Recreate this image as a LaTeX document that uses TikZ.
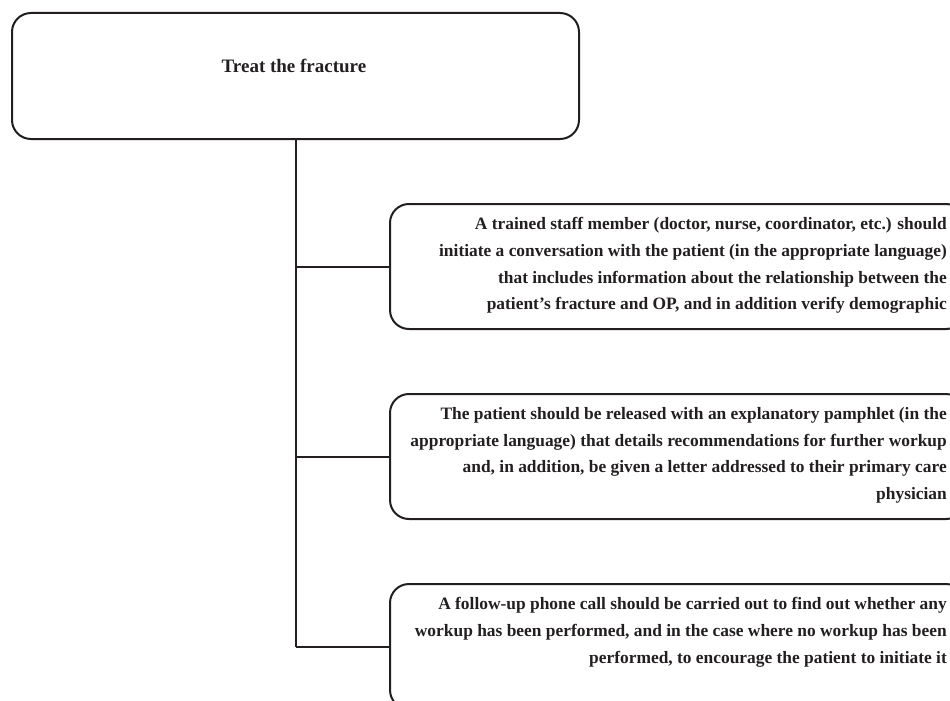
\documentclass[tikz,border=0pt]{standalone}
\usepackage{fontspec}
\setmainfont{Liberation Serif}
\definecolor{ink}{HTML}{231F20}
\begin{document}
\begin{tikzpicture}[x=1pt,y=-1pt,
  box/.style={draw=ink, line width=2pt, rounded corners=19pt, inner sep=0pt, anchor=north west},
  boxtext/.style={anchor=north east, inner sep=0pt, align=right, text=ink, font=\bfseries\fontsize{17.4}{26.8}\selectfont},
  link/.style={draw=ink, line width=2pt}]
\useasboundingbox (0,0) rectangle (950,701);
\clip (0,0) rectangle (950,701);
\node[box, minimum width=567pt, minimum height=126pt] (top) at (11,12) {};
\node[text=ink, font=\bfseries\fontsize{19}{23}\selectfont] (toptext) at (294,66) {Treat the fracture};
\node[box, minimum width=575pt, minimum height=125pt] (b1) at (389,203) {};
\node[box, minimum width=575pt, minimum height=125pt] (b2) at (389,393) {};
\node[box, minimum width=575pt, minimum height=125pt] (b3) at (389,583) {};
\node[boxtext] (t1) at (947,217) {A trained staff member (doctor, nurse, coordinator, etc.) should\\initiate a conversation with the patient (in the appropriate language)\\that includes information about the relationship between the\\patient’s fracture and OP, and in addition verify demographic};
\node[boxtext] (t2) at (947,407) {The patient should be released with an explanatory pamphlet (in the\\appropriate language) that details recommendations for further workup\\and, in addition, be given a letter addressed to their primary care\\physician};
\node[boxtext] (t3) at (947,597) {A follow-up phone call should be carried out to find out whether any\\workup has been performed, and in the case where no workup has been\\performed, to encourage the patient to initiate it};
\draw[link] (top.south) -- (top.south |- b3.west);
\draw[link] (top.south |- b1.west) -- (b1.west);
\draw[link] (top.south |- b2.west) -- (b2.west);
\draw[link] (top.south |- b3.west) -- (b3.west);
\end{tikzpicture}
\end{document}
